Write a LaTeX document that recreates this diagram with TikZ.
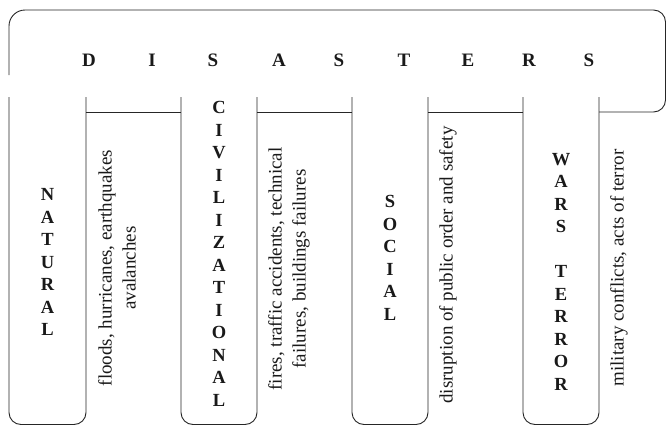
\documentclass[tikz,border=0pt]{standalone}
\usepackage{fontspec}
\setmainfont{Liberation Serif}
\begin{document}
\begin{tikzpicture}[x=1pt,y=-1pt,
  outline/.style={draw=black!85,line width=0.9pt},
  title/.style={font=\fontsize{19}{22}\selectfont\bfseries,text=black!90,inner sep=0pt},
  cat/.style={font=\fontsize{18.5}{22.5}\selectfont\bfseries,text=black!90,align=center,inner sep=0pt},
  desc/.style={font=\fontsize{19}{24}\selectfont,text=black!90,align=center,rotate=90,inner sep=0pt}]
\useasboundingbox (0,0) rectangle (666,426);
% top bar and right end
\draw[outline] (9,75) [rounded corners=16pt] -- (9,10) [rounded corners=12pt] -- (665.5,10)
  -- (665.5,112) -- (599,112);
% column outlines
\draw[outline,rounded corners=12pt] (9,97) -- (9,424.5) -- (86,424.5) -- (86,97);
\draw[outline,rounded corners=12pt] (181,97) -- (181,424.5) -- (257,424.5) -- (257,97);
\draw[outline,rounded corners=12pt] (352,97) -- (352,424.5) -- (428,424.5) -- (428,97);
\draw[outline,rounded corners=12pt] (523,97) -- (523,424.5) -- (599,424.5) -- (599,97);
% horizontal segments between columns
\draw[outline] (86,112) -- (181,112);
\draw[outline] (257,112) -- (352,112);
\draw[outline] (428,112) -- (523,112);
% title letters
\node[title] (t1) at (89,60) {D};
\node[title] (t2) at (152,60) {I};
\node[title] (t3) at (213,60) {S};
\node[title] (t4) at (279,60) {A};
\node[title] (t5) at (339,60) {S};
\node[title] (t6) at (404,60) {T};
\node[title] (t7) at (468,60) {E};
\node[title] (t8) at (529,60) {R};
\node[title] (t9) at (589,60) {S};
% categories
\node[cat] (nat) at (47.5,262) {N\\A\\T\\U\\R\\A\\L};
\node[cat] (civ) at (219,254) {C\\I\\V\\I\\L\\I\\Z\\A\\T\\I\\O\\N\\A\\L};
\node[cat] (soc) at (390,258) {S\\O\\C\\I\\A\\L};
\node[cat] (war) at (561,271.5) {W\\A\\R\\S\\[22.5pt]T\\E\\R\\R\\O\\R};
% descriptions
\node[desc] (d1) at (117,268) {floods, hurricanes, earthquakes\\avalanches};
\node[desc] (d2) at (289,269) {fires, traffic accidents, technical\\failures, buildings failures};
\node[desc] (d3) at (448,265) {disruption of public order and safety};
\node[desc] (d4) at (619,268) {military conflicts, acts of terror};
\end{tikzpicture}
\end{document}
